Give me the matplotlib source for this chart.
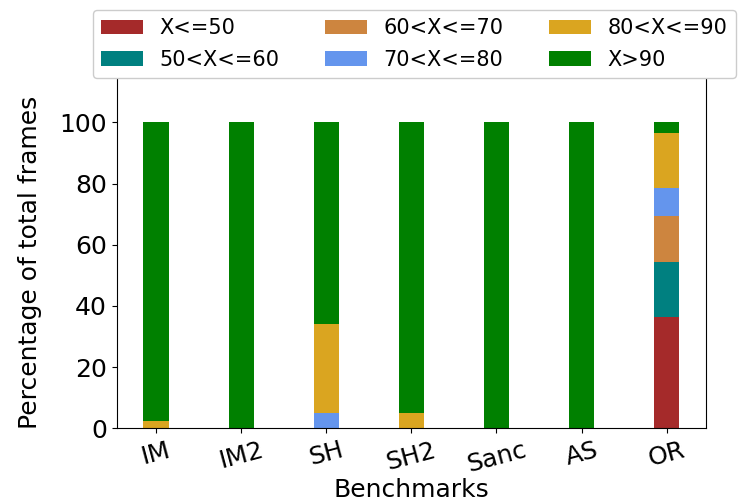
import matplotlib
matplotlib.use("Agg")
import matplotlib.pyplot as plt
import numpy as np

benchmarks = ["IM", "IM2", "SH", "SH2", "Sanc", "AS", "OR"]
labels = ["X<=50", "50<X<=60", "60<X<=70", "70<X<=80", "80<X<=90", "X>90"]
colors = ["#A52A2A", "#008080", "#CD853F", "#6495ED", "#DAA520", "#008000"]

le50   = [0, 0, 0, 0, 0, 0, 36.3]
b50_60 = [0, 0, 0, 0, 0, 0, 18.1]
b60_70 = [0, 0, 0, 0, 0, 0, 15.1]
b70_80 = [0, 0, 5.0, 0, 0, 0, 9.0]
b80_90 = [2.5, 0, 29.0, 5.0, 0, 0, 18.0]
gt90   = [97.5, 100, 66.0, 95.0, 100, 100, 3.5]
series = [le50, b50_60, b60_70, b70_80, b80_90, gt90]

fig = plt.figure(figsize=(7.48, 5.04), dpi=100)
ax = fig.add_axes([0.156, 0.150, 0.788, 0.711])
x = np.arange(len(benchmarks))
bottom = np.zeros(len(benchmarks))
for vals, lab, col in zip(series, labels, colors):
    ax.bar(x, vals, 0.3, bottom=bottom, color=col, label=lab)
    bottom += np.array(vals)

ax.set_ylim(0, 117.1)
ax.set_yticks([0, 20, 40, 60, 80, 100])
ax.set_xticks(x)
ax.set_xticklabels(benchmarks, rotation=15)
ax.tick_params(labelsize=18)
ax.set_xlabel("Benchmarks", fontsize=18, labelpad=1)
ax.set_ylabel("Percentage of total frames", fontsize=18)
ax.yaxis.set_label_coords(-0.127, 0.464)
ax.legend(loc="upper center", bbox_to_anchor=(0.505, 1.1674), ncol=3, fontsize=15,
          columnspacing=2.2, handlelength=2.0, labelspacing=0.55,
          borderaxespad=0.0, framealpha=1.0)
fig.savefig("out.png", dpi=100)
